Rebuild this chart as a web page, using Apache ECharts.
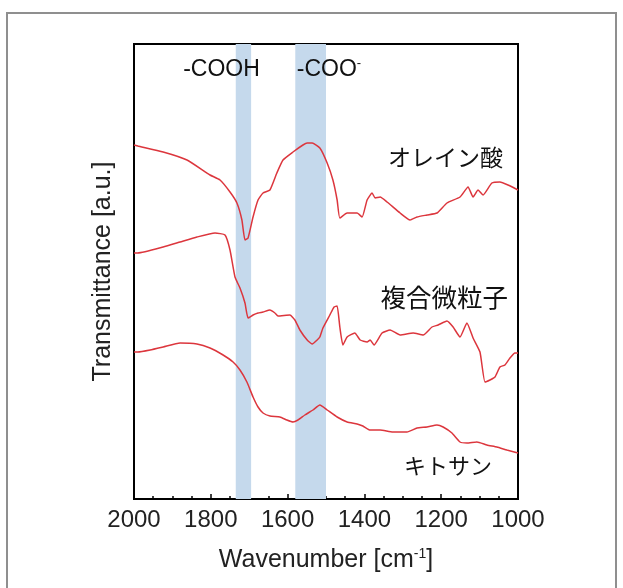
<!DOCTYPE html>
<html>
<head>
<meta charset="utf-8">
<script src="https://cdn.jsdelivr.net/npm/echarts@6/dist/echarts.min.js"></script>
<style>
  html, body { margin: 0; padding: 0; background: #fff; }
  #chart { width: 623px; height: 588px; }
</style>
</head>
<body>
<div id="chart"></div>
<script>
// 波数 [cm-1] と 透過率 (a.u.)
var oleicWn = [2000, 1990, 1924, 1862, 1802, 1776, 1750, 1732, 1719, 1711, 1703, 1690, 1677, 1664, 1646, 1628, 1612, 1586, 1560, 1549, 1536, 1516, 1497, 1482, 1471, 1464, 1445, 1419, 1406, 1393, 1380, 1372, 1359, 1341, 1307, 1281, 1263, 1237, 1211, 1185, 1151, 1130, 1117, 1104, 1091, 1068, 1047, 1026, 1000];
var oleicT = [354, 353, 347, 339, 324, 319, 307, 296, 279, 259, 261, 282, 299, 306, 309, 326, 339, 347, 354, 356, 356, 351, 336, 319, 299, 281, 286, 286, 282, 299, 306, 301, 302, 297, 286, 279, 282, 284, 286, 296, 302, 312, 302, 309, 304, 316, 317, 314, 309];

var compWn = [2000, 1990, 1924, 1880, 1836, 1789, 1763, 1750, 1737, 1724, 1711, 1703, 1690, 1677, 1664, 1646, 1633, 1625, 1594, 1581, 1568, 1549, 1536, 1523, 1516, 1508, 1490, 1479, 1471, 1464, 1456, 1445, 1425, 1411, 1393, 1385, 1375, 1354, 1333, 1307, 1273, 1247, 1224, 1208, 1185, 1169, 1151, 1133, 1117, 1099, 1086, 1073, 1060, 1047, 1034, 1021, 1008, 1000];
var compT = [246, 246, 252, 257, 262, 266, 264, 249, 222, 211, 196, 181, 184, 186, 187, 189, 186, 183, 184, 179, 169, 159, 155, 159, 162, 171, 184, 192, 193, 172, 154, 162, 166, 159, 157, 159, 154, 166, 169, 164, 166, 164, 172, 174, 178, 172, 162, 176, 161, 147, 117, 119, 122, 132, 134, 141, 146, 146];

var chitoWn = [2000, 1990, 1958, 1924, 1880, 1836, 1802, 1768, 1742, 1724, 1706, 1690, 1677, 1664, 1646, 1620, 1602, 1586, 1573, 1555, 1534, 1516, 1497, 1471, 1445, 1419, 1404, 1385, 1359, 1326, 1289, 1263, 1237, 1211, 1195, 1172, 1151, 1133, 1107, 1081, 1055, 1029, 1000];
var chitoT = [147, 147, 149, 152, 156, 155, 151, 144, 137, 129, 117, 102, 92, 86, 83, 82, 79, 77, 79, 84, 89, 94, 89, 82, 77, 75, 73, 69, 69, 67, 67, 71, 72, 74, 72, 66, 57, 56, 57, 54, 52, 49, 46];

var seriesNames = ['オレイン酸', '複合微粒子', 'キトサン'];
// 吸収帯 (COOH, COO-)
var bands = [[1735, 1695], [1580, 1500]];
var bandNames = ['-COOH', '-COO{sup|-}'];
var bandLabelAt = [[1872, 429], [1576, 429]];
var seriesLabelAt = [[1039, 342], [1026, 202], [1068, 33]];

var xTicks = { min: 1000, max: 2000, interval: 200 };

function pairs(xs, ys) {
	var out = [];
	for (var i = 0; i < xs.length; i++) {
		out.push([xs[i], ys[i]]);
	}
	return out;
}

var fontLatin = 'Arial, "Liberation Sans", sans-serif';
var fontJa = '"Noto Sans CJK JP", sans-serif';
var lineColor = '#dc363d';
var labelSizes = [23, 25.5, 22];

var myChart = echarts.init(document.getElementById('chart'), null, { renderer: 'canvas' });

var annot = [];
for (var i = 0; i < bandNames.length; i++) {
	annot.push({
		coord: bandLabelAt[i],
		label: {
			show: true,
			position: 'inside',
			align: 'left',
			verticalAlign: 'middle',
			formatter: bandNames[i],
			fontFamily: fontLatin,
			fontSize: 23,
			color: '#111',
			rich: {
				sup: { fontSize: 13, fontFamily: fontLatin, color: '#111', padding: [0, 0, 13, 0] }
			}
		}
	});
}
for (var j = 0; j < seriesNames.length; j++) {
	annot.push({
		coord: seriesLabelAt[j],
		label: {
			show: true,
			position: 'inside',
			align: 'right',
			verticalAlign: 'middle',
			formatter: seriesNames[j],
			fontFamily: fontJa,
			fontSize: labelSizes[j],
			color: '#111'
		}
	});
}

var bandAreas = [];
for (var k = 0; k < bands.length; k++) {
	bandAreas.push([{ xAxis: bands[k][0] }, { xAxis: bands[k][1] }]);
}

var option = {
	backgroundColor: '#fff',
	animation: false,
	graphic: [{
		type: 'rect',
		shape: { x: 7, y: 13, width: 609, height: 600 },
		style: { fill: 'none', stroke: '#8f8f8f', lineWidth: 2 },
		z: -1
	}],
	grid: {
		left: 134, right: 105, top: 44, bottom: 89,
		show: true,
		borderColor: '#000',
		borderWidth: 2,
		backgroundColor: 'transparent'
	},
	xAxis: {
		type: 'value',
		inverse: true,
		min: xTicks.min,
		max: xTicks.max,
		interval: xTicks.interval,
		name: 'Wavenumber [cm{sup|-1}]',
		nameLocation: 'middle',
		nameGap: 48,
		nameTextStyle: {
			fontFamily: fontLatin, fontSize: 25, color: '#222',
			rich: { sup: { fontSize: 14, fontFamily: fontLatin, color: '#222', padding: [0, 0, 13, 0] } }
		},
		axisLine: { show: true, lineStyle: { color: '#000', width: 2 } },
		axisTick: { show: true, inside: true, length: 5, lineStyle: { color: '#000', width: 1.5 } },
		minorTick: { show: true, splitNumber: 4, length: 3, lineStyle: { color: '#000', width: 1.5 } },
		axisLabel: {
			fontFamily: fontLatin, fontSize: 24, color: '#222', margin: 9,
			formatter: function (v) { return String(v); }
		},
		splitLine: { show: false }
	},
	yAxis: {
		type: 'value',
		min: 0,
		max: 455,
		name: 'Transmittance [a.u.]',
		nameLocation: 'middle',
		nameGap: 18,
		nameTextStyle: { fontFamily: fontLatin, fontSize: 25, color: '#222' },
		axisLine: { show: true, lineStyle: { color: '#000', width: 2 } },
		axisTick: { show: false },
		axisLabel: { show: false },
		splitLine: { show: false }
	},
	series: [
		{
			type: 'line',
			name: 'bands',
			data: [],
			silent: true,
			z: 1,
			markArea: {
				silent: true,
				itemStyle: { color: '#c5d9ec', opacity: 1 },
				data: bandAreas
			},
			markPoint: {
				silent: true,
				symbol: 'rect',
				symbolSize: 0,
				data: annot
			}
		},
		{
			type: 'line', name: seriesNames[0], data: pairs(oleicWn, oleicT),
			showSymbol: false, smooth: 0.15, z: 3,
			lineStyle: { color: lineColor, width: 1.5 }
		},
		{
			type: 'line', name: seriesNames[1], data: pairs(compWn, compT),
			showSymbol: false, smooth: 0.15, z: 3,
			lineStyle: { color: lineColor, width: 1.5 }
		},
		{
			type: 'line', name: seriesNames[2], data: pairs(chitoWn, chitoT),
			showSymbol: false, smooth: 0.15, z: 3,
			lineStyle: { color: lineColor, width: 1.5 }
		}
	]
};

myChart.setOption(option);
</script>
</body>
</html>
